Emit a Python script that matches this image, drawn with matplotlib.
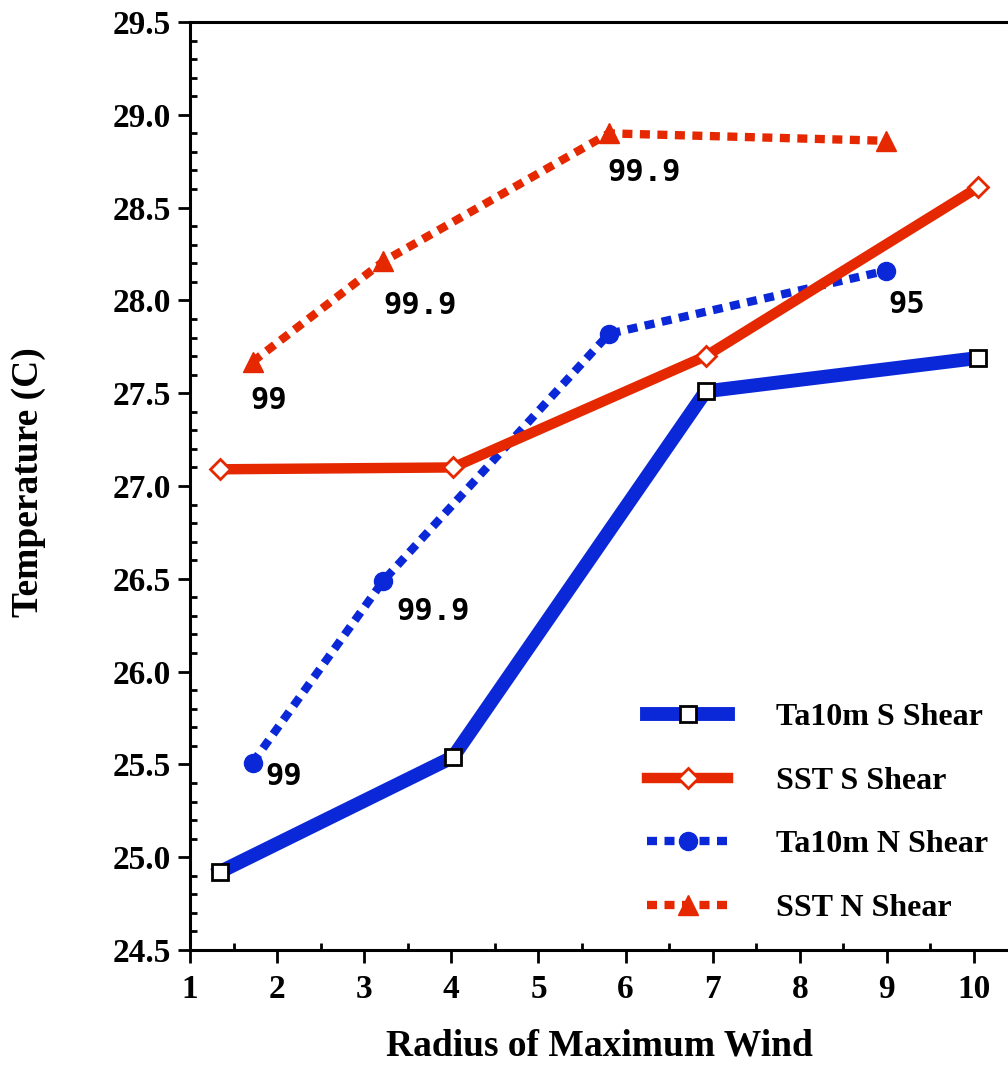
import matplotlib
matplotlib.use("Agg")
import matplotlib.pyplot as plt
from matplotlib.ticker import MultipleLocator, FormatStrFormatter

# Data
x_s = [1.34, 4.02, 6.92, 10.05]
ta10m_s = [24.92, 25.54, 27.51, 27.69]
sst_s = [27.09, 27.10, 27.70, 28.61]

x_n = [1.72, 3.22, 5.81, 8.99]
ta10m_n = [25.51, 26.49, 27.82, 28.16]
sst_n = [27.67, 28.21, 28.90, 28.86]

ta10m_n_labels = ["99", "99.9", "", "95"]
sst_n_labels = ["99", "99.9", "99.9", ""]

xticks = [1, 2, 3, 4, 5, 6, 7, 8, 9, 10]
yticks = [24.5, 25.0, 25.5, 26.0, 26.5, 27.0, 27.5, 28.0, 28.5, 29.0, 29.5]

# label offsets (points) - styling
ta_off = [(9, -10), (9, -22), (0, 0), (2, -24)]
sst_off = [(-2, -28), (0, -32), (-1, -28), (0, 0)]

blue = "#0A28D8"
red = "#E52800"

plt.rcParams['font.family'] = ['Liberation Serif', 'DejaVu Serif']
plt.rcParams['font.weight'] = 'bold'

fig = plt.figure(figsize=(10.08, 10.66), dpi=100)
ax = fig.add_axes([190/1008, 1-950/1066, 1-190/1008, (950-22)/1066])

ax.plot(x_s, ta10m_s, color=blue, lw=10, marker='s', ms=12, mfc='white',
        mec='black', mew=2, label='Ta10m S Shear', zorder=3)
ax.plot(x_s, sst_s, color=red, lw=7.5, marker='D', ms=10, mfc='white',
        mec=red, mew=2, label='SST S Shear', zorder=3)
ax.plot(x_n, ta10m_n, color=blue, lw=6, ls=(0, (1.2, 0.9)), dash_capstyle='butt',
        marker='o', ms=13, mfc=blue, mec=blue, label='Ta10m N Shear', zorder=2)
ax.plot(x_n, sst_n, color=red, lw=6, ls=(0, (1.2, 0.9)), dash_capstyle='butt',
        marker='^', ms=14, mfc=red, mec=red, label='SST N Shear', zorder=2)

ann_font = dict(family='DejaVu Sans Mono', weight='bold', fontsize=22)
for xv, yv, lab, off in zip(x_n, ta10m_n, ta10m_n_labels, ta_off):
    if lab:
        ax.annotate(lab, (xv, yv), xytext=off, textcoords='offset points',
                    ha='left', va='center', **ann_font)
for xv, yv, lab, off in zip(x_n, sst_n, sst_n_labels, sst_off):
    if lab:
        ax.annotate(lab, (xv, yv), xytext=off, textcoords='offset points',
                    ha='left', va='center', **ann_font)

ax.set_xlim(1, 10.39)
ax.set_ylim(24.5, 29.5)
ax.set_xticks(xticks)
ax.set_yticks(yticks)
ax.xaxis.set_minor_locator(MultipleLocator(0.5))
ax.yaxis.set_minor_locator(MultipleLocator(0.1))
ax.yaxis.set_major_formatter(FormatStrFormatter('%.1f'))

ax.spines['right'].set_visible(False)
for s in ['left', 'bottom', 'top']:
    ax.spines[s].set_linewidth(2.2)

ax.tick_params(which='major', direction='out', length=9, width=2, labelsize=24, pad=5)
ax.tick_params(axis='x', which='major', pad=8)
ax.tick_params(which='minor', direction='in', length=5, width=2)
ax.tick_params(top=False, right=False, which='both')
for lbl in ax.get_xticklabels() + ax.get_yticklabels():
    lbl.set_fontweight('bold')

ax.set_xlabel('Radius of Maximum Wind', fontsize=27, fontweight='bold')
ax.xaxis.set_label_coords(599/1008, (1066-1029)/1066, transform=fig.transFigure)
ax.set_ylabel('Temperature (C)', fontsize=27, fontweight='bold')
ax.yaxis.set_label_coords(46/1008, (1066-482)/1066, transform=fig.transFigure)

leg = ax.legend(loc='upper left', bbox_to_anchor=(647/1008, (1066-703)/1066),
                bbox_transform=fig.transFigure, frameon=False, borderpad=0,
                borderaxespad=0, handlelength=2.54, handletextpad=1.5,
                labelspacing=1.07,
                prop={'family': 'Liberation Serif', 'weight': 'bold', 'size': 23})

fig.savefig('out.png', dpi=100)
